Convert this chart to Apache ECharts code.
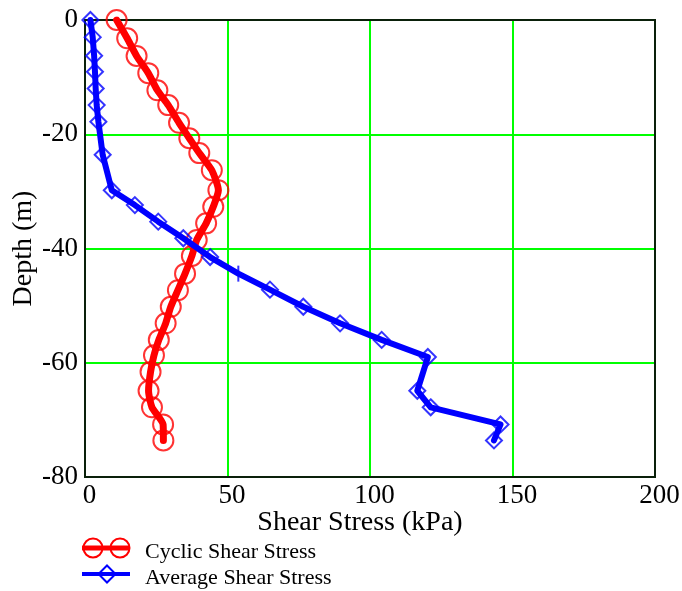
<!DOCTYPE html>
<html>
<head>
<meta charset="utf-8">
<script src="https://cdn.jsdelivr.net/npm/echarts@6/dist/echarts.min.js"></script>
<style>
html,body{margin:0;padding:0;background:#fff;}
#chart{width:682px;height:591px;}
</style>
</head>
<body>
<div id="chart"></div>
<script>
// Cyclic shear stress profile (depth in m, stress in kPa)
const cyclicDepth = [0, -3.2, -6.3, -9.3, -12.3, -14.9, -18.0, -20.7, -23.3, -26.3, -29.8, -32.7, -35.6, -38.5, -41.3, -44.4, -47.3, -50.2, -53.1, -56.0, -58.7, -61.6, -64.9, -67.8, -70.8, -73.6];
const cyclicStress = [11.1, 14.8, 18.1, 22.2, 25.4, 29.2, 33.0, 36.6, 40.1, 44.5, 46.8, 45.0, 42.5, 39.2, 37.5, 35.1, 32.6, 30.1, 28.3, 25.9, 24.2, 23.0, 22.3, 23.5, 27.4, 27.5];
// Average shear stress profile
const averageDepth = [0, -3.0, -6.25, -9.05, -12.0, -14.9, -17.8, -23.6, -29.8, -32.4, -35.3, -38.2, -41.5, -44.4, -47.2, -50.2, -53.1, -56.0, -59.0, -64.9, -67.8, -70.8, -73.6];
const averageStress = [1.9, 2.7, 3.2, 3.5, 3.75, 4.1, 4.7, 6.2, 9.4, 17.5, 25.7, 34.5, 43.9, 53.8, 64.9, 76.6, 89.5, 104.1, 120.3, 116.6, 121.3, 145.8, 143.5];
const xTicks = [0, 50, 100, 150, 200];
const yTicks = [0, -20, -40, -60, -80];
const seriesNames = ['Cyclic Shear Stress', 'Average Shear Stress'];
const xTitle = 'Shear Stress (kPa)';
const yTitle = 'Depth (m)';

const FONT = "'Liberation Serif','Times New Roman',serif";
const cyclicPts = cyclicStress.map((v, i) => [v, cyclicDepth[i]]);
const averagePts = averageStress.map((v, i) => [v, averageDepth[i]]);
const tickIdx = 13; // point drawn as a short vertical tick in the original
const averageMarks = averagePts.map((p, i) => i === tickIdx ? {value: p, symbol: 'rect', symbolSize: [2, 16], itemStyle: {color: '#0000ff', borderWidth: 0}} : p);

const chart = echarts.init(document.getElementById('chart'), null, {renderer: 'canvas'});
chart.setOption({
  animation: false,
  backgroundColor: '#ffffff',
  grid: {left: 85, right: 27, top: 20, bottom: 114, show: true, z: 1,
         containLabel: false, outerBoundsMode: 'none',
         borderColor: '#0a200a', borderWidth: 2, backgroundColor: 'transparent'},
  xAxis: {
    type: 'value', min: xTicks[0], max: xTicks[xTicks.length - 1], interval: 50,
    name: xTitle, nameLocation: 'middle', nameGap: 32, nameMoveOverlap: false,
    nameTextStyle: {fontFamily: FONT, fontSize: 28, color: '#000', padding: [0, 20, 0, 0]},
    axisLine: {show: false}, axisTick: {show: false},
    axisLabel: {fontFamily: FONT, fontSize: 27, color: '#000', margin: 5, padding: [0, 0, 0, 9]},
    splitLine: {show: true, lineStyle: {color: '#00ff00', width: 2}}
  },
  yAxis: {
    type: 'value', min: yTicks[yTicks.length - 1], max: yTicks[0], interval: 20,
    name: yTitle, nameLocation: 'middle', nameGap: 47, nameRotate: 90, nameMoveOverlap: false,
    nameTextStyle: {fontFamily: FONT, fontSize: 28, color: '#000'},
    axisLine: {show: false}, axisTick: {show: false},
    axisLabel: {fontFamily: FONT, fontSize: 27, color: '#000', margin: 7},
    splitLine: {show: true, lineStyle: {color: '#00ff00', width: 2}}
  },
  series: [
    {name: seriesNames[0] + ' markers', type: 'scatter', data: cyclicPts, z: 2,
     symbol: 'circle', symbolSize: 20,
     itemStyle: {color: 'rgba(0,0,0,0)', borderColor: '#ff0000', borderWidth: 2}},
    {name: seriesNames[0], type: 'line', data: cyclicPts, z: 3, showSymbol: false,
     smooth: 0.2, lineStyle: {color: '#ff0000', width: 7, cap: 'round', join: 'round'}},
    {name: seriesNames[1] + ' markers', type: 'scatter', data: averageMarks, z: 4,
     symbol: 'diamond', symbolSize: [16, 16],
     itemStyle: {color: 'rgba(0,0,0,0)', borderColor: '#0000ff', borderWidth: 2}},
    {name: seriesNames[1], type: 'line', data: averagePts, z: 5, showSymbol: false,
     lineStyle: {color: '#0000ff', width: 6, cap: 'round', join: 'round'}}
  ],
  graphic: [
    {type: 'line', shape: {x1: 82, y1: 548, x2: 130, y2: 548}, style: {stroke: '#ff0000', lineWidth: 5}},
    {type: 'circle', shape: {cx: 93, cy: 548, r: 9.5}, style: {fill: 'none', stroke: '#ff0000', lineWidth: 2}},
    {type: 'circle', shape: {cx: 120, cy: 548, r: 9.5}, style: {fill: 'none', stroke: '#ff0000', lineWidth: 2}},
    {type: 'text', x: 145, y: 552, style: {text: seriesNames[0], font: "22px " + FONT, fill: '#000', textVerticalAlign: 'middle', verticalAlign: 'middle'}},
    {type: 'line', shape: {x1: 82, y1: 574, x2: 130, y2: 574}, style: {stroke: '#0000ff', lineWidth: 4}},
    {type: 'polygon', shape: {points: [[107, 565.5], [115.5, 574], [107, 582.5], [98.5, 574]]}, style: {fill: 'none', stroke: '#0000ff', lineWidth: 2}},
    {type: 'text', x: 145, y: 578, style: {text: seriesNames[1], font: "22px " + FONT, fill: '#000', textVerticalAlign: 'middle', verticalAlign: 'middle'}}
  ]
});
</script>
</body>
</html>
